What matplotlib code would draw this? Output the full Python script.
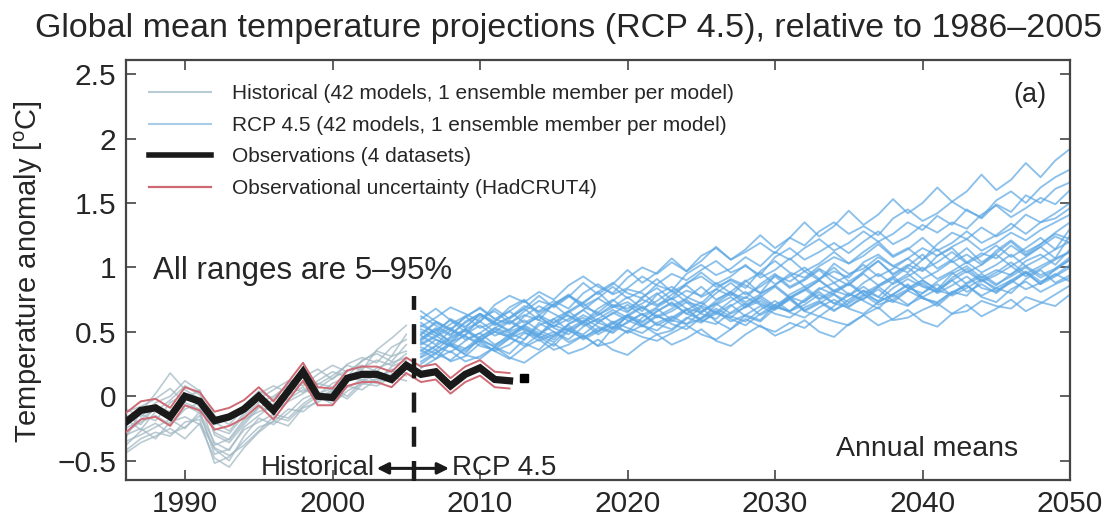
import numpy as np
import matplotlib
matplotlib.use("Agg")
import matplotlib.pyplot as plt
from matplotlib.lines import Line2D

plt.rcParams['font.family'] = ['Liberation Sans', 'DejaVu Sans']
plt.rcParams['mathtext.fontset'] = 'custom'
plt.rcParams['mathtext.rm'] = 'Liberation Sans'

# ---------------- data ----------------
obs_years = list(range(1986, 2013))
obs_mean = [-0.20, -0.11, -0.09, -0.16, 0.00, -0.04, -0.19, -0.16, -0.10, 0.00,
            -0.11, 0.04, 0.19, 0.00, -0.01, 0.14, 0.17, 0.17, 0.13, 0.24,
            0.17, 0.19, 0.08, 0.17, 0.22, 0.13, 0.12]
obs_upper = [-0.13, -0.04, -0.02, -0.09, 0.07, 0.03, -0.12, -0.09, -0.03, 0.07,
             -0.04, 0.11, 0.26, 0.07, 0.06, 0.20, 0.23, 0.23, 0.19, 0.30,
             0.23, 0.25, 0.14, 0.23, 0.28, 0.19, 0.18]
obs_lower = [-0.28, -0.18, -0.16, -0.23, -0.07, -0.11, -0.26, -0.23, -0.17, -0.07,
             -0.18, -0.03, 0.12, -0.07, -0.07, 0.08, 0.11, 0.11, 0.07, 0.18,
             0.11, 0.13, 0.02, 0.11, 0.16, 0.07, 0.06]
obs_2013 = 0.14

hist_years = list(range(1986, 2006))
hist_runs = [
    [-0.28, -0.20, -0.15, -0.22, -0.10, -0.05, -0.38, -0.33, -0.18, -0.12, -0.08, -0.02, 0.05, 0.01, 0.10, 0.15, 0.12, 0.22, 0.26, 0.30],
    [-0.35, -0.30, -0.24, -0.18, -0.25, -0.12, -0.45, -0.41, -0.26, -0.20, -0.14, -0.17, -0.06, 0.02, 0.06, 0.00, 0.11, 0.18, 0.14, 0.24],
    [-0.15, -0.22, -0.08, -0.12, -0.02, 0.05, -0.30, -0.36, -0.22, -0.09, -0.03, 0.04, 0.10, 0.06, 0.14, 0.20, 0.24, 0.19, 0.31, 0.35],
    [-0.42, -0.33, -0.28, -0.31, -0.20, -0.18, -0.52, -0.47, -0.35, -0.24, -0.20, -0.10, -0.12, -0.03, 0.02, 0.08, 0.05, 0.13, 0.20, 0.16],
    [-0.22, -0.14, -0.19, -0.05, 0.02, -0.08, -0.25, -0.29, -0.15, -0.05, 0.00, 0.08, 0.03, 0.12, 0.19, 0.15, 0.28, 0.33, 0.27, 0.40],
    [-0.30, -0.25, -0.33, -0.20, -0.16, -0.22, -0.48, -0.55, -0.40, -0.28, -0.19, -0.23, -0.09, -0.05, 0.04, -0.02, 0.09, 0.14, 0.21, 0.18],
    [-0.12, -0.08, -0.02, 0.06, -0.05, -0.10, -0.20, -0.27, -0.13, 0.02, 0.08, 0.03, 0.15, 0.21, 0.13, 0.25, 0.30, 0.26, 0.38, 0.44],
    [-0.38, -0.27, -0.21, -0.29, -0.24, -0.15, -0.41, -0.50, -0.31, -0.17, -0.22, -0.13, -0.02, 0.03, -0.04, 0.07, 0.13, 0.10, 0.17, 0.22],
    [-0.18, -0.26, -0.12, -0.03, 0.08, 0.01, -0.22, -0.18, -0.07, 0.04, -0.02, 0.10, 0.18, 0.09, 0.16, 0.24, 0.20, 0.36, 0.45, 0.55],
    [-0.25, -0.18, -0.09, -0.14, -0.07, -0.13, -0.36, -0.42, -0.24, -0.15, -0.06, 0.01, 0.07, -0.02, 0.05, 0.12, 0.17, 0.11, 0.23, 0.28],
    [-0.44, -0.36, -0.31, -0.25, -0.33, -0.21, -0.40, -0.46, -0.38, -0.27, -0.16, -0.19, -0.08, 0.00, -0.06, 0.04, 0.10, 0.08, 0.15, 0.12],
    [-0.10, -0.16, -0.05, 0.00, 0.12, 0.04, -0.15, -0.22, -0.10, -0.02, 0.05, 0.12, 0.08, 0.17, 0.24, 0.19, 0.27, 0.35, 0.31, 0.48],
    [-0.32, -0.12, 0.02, 0.18, 0.05, -0.02, -0.28, -0.34, -0.20, -0.08, -0.12, -0.04, 0.02, 0.10, 0.07, 0.14, 0.22, 0.28, 0.24, 0.33],
]

rcp_years = list(range(2006, 2051))
rcp_runs = [
    [0.30, 0.36, 0.27, 0.31, 0.41, 0.35, 0.29, 0.38, 0.44, 0.36, 0.40, 0.47, 0.39, 0.42, 0.51, 0.46, 0.43, 0.49, 0.55, 0.48, 0.44, 0.52, 0.60, 0.54, 0.50, 0.57, 0.53, 0.62, 0.58, 0.55, 0.63, 0.69, 0.59, 0.61, 0.67, 0.72, 0.64, 0.66, 0.74, 0.70, 0.68, 0.77, 0.73, 0.70, 0.79],
    [0.38, 0.33, 0.42, 0.47, 0.39, 0.36, 0.45, 0.50, 0.43, 0.48, 0.55, 0.46, 0.51, 0.58, 0.53, 0.49, 0.57, 0.62, 0.56, 0.60, 0.66, 0.58, 0.63, 0.70, 0.64, 0.61, 0.69, 0.74, 0.67, 0.72, 0.79, 0.71, 0.75, 0.82, 0.76, 0.73, 0.81, 0.86, 0.78, 0.84, 0.90, 0.83, 0.88, 0.95, 0.89],
    [0.45, 0.52, 0.41, 0.37, 0.46, 0.53, 0.49, 0.44, 0.55, 0.60, 0.51, 0.48, 0.57, 0.65, 0.59, 0.54, 0.62, 0.58, 0.67, 0.73, 0.64, 0.61, 0.70, 0.76, 0.69, 0.66, 0.74, 0.81, 0.72, 0.78, 0.85, 0.77, 0.73, 0.82, 0.88, 0.80, 0.86, 0.93, 0.84, 0.81, 0.90, 0.97, 0.89, 0.94, 1.02],
    [0.27, 0.34, 0.40, 0.32, 0.29, 0.38, 0.45, 0.41, 0.36, 0.47, 0.53, 0.44, 0.50, 0.57, 0.49, 0.55, 0.63, 0.56, 0.52, 0.61, 0.68, 0.62, 0.58, 0.67, 0.74, 0.66, 0.71, 0.79, 0.72, 0.69, 0.78, 0.85, 0.77, 0.83, 0.90, 0.82, 0.79, 0.88, 0.95, 0.87, 0.93, 1.00, 0.92, 0.98, 1.06],
    [0.50, 0.44, 0.39, 0.48, 0.55, 0.47, 0.52, 0.59, 0.51, 0.46, 0.56, 0.63, 0.57, 0.53, 0.62, 0.69, 0.61, 0.66, 0.73, 0.64, 0.60, 0.70, 0.77, 0.71, 0.67, 0.76, 0.83, 0.75, 0.80, 0.87, 0.79, 0.74, 0.84, 0.91, 0.85, 0.81, 0.90, 0.97, 0.89, 0.94, 1.01, 0.93, 0.99, 1.06, 1.12],
    [0.35, 0.44, 0.39, 0.33, 0.46, 0.52, 0.47, 0.55, 0.49, 0.44, 0.56, 0.61, 0.54, 0.50, 0.63, 0.58, 0.66, 0.73, 0.64, 0.60, 0.71, 0.77, 0.69, 0.74, 0.68, 0.79, 0.85, 0.76, 0.82, 0.88, 0.80, 0.86, 0.93, 0.84, 0.90, 0.83, 0.95, 1.01, 0.92, 0.98, 0.94, 1.05, 1.10, 1.02, 1.14],
    [0.57, 0.49, 0.43, 0.52, 0.58, 0.50, 0.46, 0.55, 0.62, 0.54, 0.60, 0.67, 0.58, 0.64, 0.71, 0.63, 0.69, 0.76, 0.68, 0.65, 0.74, 0.81, 0.73, 0.79, 0.86, 0.77, 0.83, 0.90, 0.82, 0.78, 0.88, 0.95, 0.87, 0.93, 1.00, 0.91, 0.97, 1.04, 0.96, 1.02, 1.10, 1.01, 1.07, 1.14, 1.20],
    [0.40, 0.46, 0.53, 0.44, 0.49, 0.57, 0.50, 0.55, 0.62, 0.53, 0.48, 0.58, 0.65, 0.57, 0.63, 0.70, 0.62, 0.68, 0.75, 0.66, 0.72, 0.80, 0.71, 0.77, 0.85, 0.76, 0.82, 0.90, 0.81, 0.87, 0.95, 0.86, 0.92, 1.00, 0.91, 0.97, 1.05, 0.96, 1.02, 1.10, 1.01, 1.08, 1.16, 1.07, 1.25],
    [0.62, 0.55, 0.48, 0.57, 0.64, 0.56, 0.61, 0.68, 0.59, 0.54, 0.65, 0.72, 0.63, 0.69, 0.77, 0.68, 0.74, 0.82, 0.73, 0.70, 0.80, 0.88, 0.79, 0.85, 0.93, 0.84, 0.90, 0.98, 0.88, 0.94, 1.02, 0.93, 0.99, 1.07, 0.98, 1.04, 1.12, 1.03, 1.09, 1.17, 1.08, 1.15, 1.23, 1.14, 1.30],
    [0.33, 0.39, 0.46, 0.52, 0.44, 0.50, 0.58, 0.51, 0.47, 0.60, 0.66, 0.57, 0.63, 0.71, 0.68, 0.75, 0.70, 0.79, 0.86, 0.77, 0.83, 0.78, 0.89, 0.96, 0.87, 0.93, 1.00, 0.91, 0.97, 0.92, 1.04, 1.10, 1.01, 1.07, 1.15, 1.09, 1.16, 1.22, 1.13, 1.19, 1.27, 1.21, 1.29, 1.35, 1.41],
    [0.66, 0.58, 0.52, 0.61, 0.69, 0.60, 0.66, 0.74, 0.65, 0.71, 0.79, 0.70, 0.76, 0.85, 0.76, 0.82, 0.91, 0.81, 0.87, 0.96, 0.87, 0.93, 1.02, 0.92, 0.98, 1.07, 0.97, 1.03, 1.12, 1.03, 1.09, 1.18, 1.08, 1.14, 1.23, 1.13, 1.19, 1.28, 1.19, 1.25, 1.34, 1.26, 1.35, 1.42, 1.50],
    [0.48, 0.57, 0.51, 0.62, 0.68, 0.60, 0.56, 0.66, 0.74, 0.70, 0.78, 0.72, 0.81, 0.88, 0.80, 0.76, 0.87, 0.95, 0.90, 0.98, 1.05, 0.96, 1.01, 0.94, 1.08, 1.15, 1.06, 1.12, 1.19, 1.11, 1.20, 1.28, 1.18, 1.24, 1.33, 1.27, 1.35, 1.30, 1.41, 1.48, 1.39, 1.46, 1.54, 1.49, 1.60],
    [0.54, 0.61, 0.69, 0.64, 0.58, 0.71, 0.78, 0.73, 0.81, 0.75, 0.86, 0.93, 0.85, 0.80, 0.92, 1.00, 0.95, 1.04, 0.97, 1.09, 1.15, 1.06, 1.12, 1.19, 1.11, 1.23, 1.17, 1.28, 1.35, 1.26, 1.32, 1.25, 1.38, 1.45, 1.36, 1.42, 1.51, 1.44, 1.39, 1.52, 1.59, 1.50, 1.62, 1.70, 1.76],
    [0.43, 0.51, 0.59, 0.50, 0.58, 0.68, 0.60, 0.68, 0.78, 0.69, 0.77, 0.88, 0.79, 0.87, 0.98, 0.88, 0.96, 1.07, 0.97, 1.05, 1.16, 1.06, 1.14, 1.25, 1.15, 1.23, 1.35, 1.24, 1.32, 1.44, 1.33, 1.41, 1.53, 1.42, 1.50, 1.62, 1.51, 1.59, 1.72, 1.60, 1.68, 1.81, 1.70, 1.83, 1.92],
    [0.22, 0.29, 0.35, 0.27, 0.31, 0.38, 0.30, 0.26, 0.34, 0.41, 0.33, 0.37, 0.44, 0.36, 0.32, 0.41, 0.48, 0.40, 0.45, 0.52, 0.43, 0.39, 0.48, 0.55, 0.47, 0.52, 0.59, 0.50, 0.46, 0.56, 0.63, 0.55, 0.60, 0.67, 0.58, 0.54, 0.64, 0.71, 0.62, 0.68, 0.75, 0.66, 0.72, 0.79, 0.86],
    [0.42, 0.36, 0.45, 0.51, 0.43, 0.39, 0.48, 0.54, 0.47, 0.42, 0.52, 0.59, 0.50, 0.56, 0.63, 0.55, 0.51, 0.60, 0.67, 0.58, 0.64, 0.71, 0.62, 0.58, 0.68, 0.75, 0.66, 0.72, 0.79, 0.70, 0.76, 0.83, 0.74, 0.70, 0.80, 0.87, 0.78, 0.84, 0.91, 0.82, 0.88, 0.96, 0.87, 0.99, 1.08],
    [0.52, 0.47, 0.56, 0.62, 0.53, 0.58, 0.66, 0.57, 0.63, 0.71, 0.62, 0.57, 0.68, 0.75, 0.66, 0.72, 0.80, 0.70, 0.76, 0.85, 0.75, 0.81, 0.90, 0.80, 0.86, 0.95, 0.85, 0.91, 1.00, 0.89, 0.96, 1.05, 0.94, 1.01, 1.10, 0.99, 1.06, 1.15, 1.04, 1.11, 1.20, 1.10, 1.18, 1.27, 1.35],
    [0.31, 0.39, 0.34, 0.43, 0.49, 0.40, 0.46, 0.53, 0.45, 0.50, 0.44, 0.54, 0.60, 0.52, 0.57, 0.64, 0.55, 0.61, 0.68, 0.59, 0.56, 0.65, 0.72, 0.63, 0.69, 0.76, 0.67, 0.73, 0.66, 0.75, 0.82, 0.73, 0.79, 0.86, 0.77, 0.83, 0.90, 0.81, 0.87, 0.80, 0.89, 0.96, 0.87, 0.93, 1.00],
    [0.48, 0.58, 0.52, 0.47, 0.61, 0.66, 0.57, 0.63, 0.59, 0.72, 0.78, 0.69, 0.65, 0.74, 0.83, 0.80, 0.71, 0.76, 0.88, 0.93, 0.85, 0.90, 0.84, 0.97, 1.05, 0.96, 0.92, 1.01, 1.08, 1.03, 1.12, 1.20, 1.09, 1.15, 1.06, 1.18, 1.27, 1.22, 1.31, 1.24, 1.30, 1.41, 1.35, 1.38, 1.46],
    [0.36, 0.29, 0.41, 0.52, 0.45, 0.38, 0.33, 0.44, 0.57, 0.50, 0.42, 0.47, 0.39, 0.53, 0.62, 0.55, 0.48, 0.51, 0.60, 0.69, 0.58, 0.52, 0.63, 0.59, 0.71, 0.77, 0.66, 0.62, 0.70, 0.80, 0.74, 0.68, 0.79, 0.87, 0.76, 0.72, 0.81, 0.78, 0.90, 0.84, 0.80, 0.91, 0.98, 0.88, 0.94],
    [0.55, 0.49, 0.60, 0.54, 0.63, 0.57, 0.51, 0.62, 0.70, 0.64, 0.58, 0.67, 0.76, 0.69, 0.73, 0.66, 0.79, 0.85, 0.77, 0.72, 0.83, 0.91, 0.86, 0.80, 0.94, 0.89, 0.97, 0.90, 1.03, 0.95, 0.99, 1.08, 1.01, 0.96, 1.06, 1.14, 1.04, 1.10, 1.02, 1.13, 1.21, 1.12, 1.18, 1.26, 1.22],
    [0.25, 0.33, 0.28, 0.37, 0.43, 0.35, 0.40, 0.49, 0.46, 0.39, 0.51, 0.57, 0.48, 0.54, 0.50, 0.61, 0.68, 0.59, 0.56, 0.65, 0.72, 0.64, 0.69, 0.78, 0.70, 0.66, 0.75, 0.84, 0.79, 0.73, 0.82, 0.77, 0.88, 0.95, 0.86, 0.81, 0.92, 0.99, 0.90, 0.96, 1.04, 0.95, 1.01, 1.07, 1.12],
    [0.44, 0.53, 0.47, 0.58, 0.64, 0.55, 0.61, 0.70, 0.66, 0.74, 0.68, 0.80, 0.87, 0.79, 0.84, 0.93, 0.86, 0.82, 0.95, 1.02, 0.94, 0.99, 1.08, 1.01, 1.12, 1.06, 1.15, 1.22, 1.13, 1.19, 1.28, 1.20, 1.26, 1.35, 1.29, 1.40, 1.33, 1.45, 1.38, 1.49, 1.43, 1.56, 1.50, 1.61, 1.66],
    [0.41, 0.47, 0.40, 0.35, 0.44, 0.50, 0.46, 0.39, 0.48, 0.55, 0.51, 0.45, 0.53, 0.49, 0.58, 0.64, 0.56, 0.52, 0.61, 0.57, 0.66, 0.60, 0.55, 0.64, 0.71, 0.65, 0.61, 0.69, 0.75, 0.68, 0.64, 0.73, 0.79, 0.71, 0.77, 0.70, 0.80, 0.86, 0.77, 0.73, 0.83, 0.89, 0.81, 0.87, 0.92],
    [0.60, 0.68, 0.59, 0.53, 0.64, 0.58, 0.69, 0.75, 0.63, 0.57, 0.66, 0.73, 0.81, 0.70, 0.65, 0.77, 0.84, 0.75, 0.82, 0.78, 0.88, 0.80, 0.76, 0.87, 0.95, 0.85, 0.91, 0.99, 0.92, 0.86, 0.97, 1.05, 0.95, 1.02, 0.97, 1.09, 1.15, 1.04, 1.11, 1.07, 1.17, 1.09, 1.16, 1.24, 1.19],
    [0.47, 0.40, 0.51, 0.46, 0.42, 0.53, 0.59, 0.52, 0.48, 0.57, 0.63, 0.55, 0.60, 0.67, 0.61, 0.57, 0.66, 0.72, 0.64, 0.70, 0.65, 0.74, 0.81, 0.72, 0.68, 0.77, 0.73, 0.83, 0.88, 0.79, 0.75, 0.85, 0.91, 0.84, 0.80, 0.89, 0.96, 0.87, 0.93, 0.86, 0.95, 1.01, 0.94, 0.99, 1.06],
]

x_ticks = [1990, 2000, 2010, 2020, 2030, 2040, 2050]
y_ticks = [-0.5, 0, 0.5, 1, 1.5, 2, 2.5]
y_tick_labels = ['\u22120.5', '0', '0.5', '1', '1.5', '2', '2.5']
legend_labels = [
    'Historical (42 models, 1 ensemble member per model)',
    'RCP 4.5 (42 models, 1 ensemble member per model)',
    'Observations (4 datasets)',
    'Observational uncertainty (HadCRUT4)',
]
split_year = 2005.5

# ---------------- styling ----------------
TXT = '#262626'
HIST_C = '#a3b9c4'
RCP_C = '#5aa6e3'
RED_C = '#cf6a74'

fig = plt.figure(figsize=(11.13, 5.26), dpi=100)
ax = fig.add_axes([0.1132, 0.0875, 0.8482, 0.7985])

for run in hist_runs:
    ax.plot(hist_years, run, color=HIST_C, lw=1.2, alpha=0.75, zorder=2)
for run in rcp_runs:
    ax.plot(rcp_years, run, color=RCP_C, lw=1.35, alpha=0.7, zorder=2)

ax.plot(obs_years, obs_upper, color=RED_C, lw=1.4, zorder=3)
ax.plot(obs_years, obs_lower, color=RED_C, lw=1.4, zorder=3)
ax.plot(obs_years, obs_mean, color='#1a1a1a', lw=5.2, zorder=4, solid_joinstyle='miter')
ax.plot([2013], [obs_2013], marker='s', color='black', ms=6, ls='none', zorder=5)

# boundary between historical and scenario periods
ax.plot([split_year, split_year], [-0.66, 0.78], color='#1a1a1a', lw=3.2,
        dashes=(4.5, 3.2), zorder=5, clip_on=False)
ax.annotate('', xy=(2003.0, -0.56), xytext=(2007.9, -0.56),
            arrowprops=dict(arrowstyle='<|-|>', color='#1a1a1a', lw=2.2,
                            mutation_scale=17, shrinkA=0, shrinkB=0), zorder=6)
ax.text(2002.9, -0.56, 'Historical', ha='right', va='center', fontsize=20, color=TXT)
ax.text(2008.1, -0.56, 'RCP 4.5', ha='left', va='center', fontsize=20, color=TXT)

ax.text(1987.8, 0.97, 'All ranges are 5\u201395%', ha='left', va='center', fontsize=22.5, color=TXT)
ax.text(2046.5, -0.41, 'Annual means', ha='right', va='center', fontsize=20.5, color=TXT)
ax.text(2047.3, 2.34, '(a)', ha='center', va='center', fontsize=19.5, color=TXT)

handles = [
    Line2D([], [], color='#b9cbd4', lw=1.5),
    Line2D([], [], color='#a9cde9', lw=1.5),
    Line2D([], [], color='#1a1a1a', lw=4),
    Line2D([], [], color=RED_C, lw=1.6),
]
leg = ax.legend(handles, legend_labels, loc='upper left', bbox_to_anchor=(0.024, 0.942),
                frameon=False, fontsize=15, handlelength=3.0, handletextpad=1.0,
                labelspacing=0.6, borderpad=0, borderaxespad=0)
for t in leg.get_texts():
    t.set_color(TXT)

ax.set_xlim(1986, 2050)
ax.set_ylim(-0.65, 2.61)
ax.set_xticks(x_ticks)
ax.set_xticklabels([str(v) for v in x_ticks])
ax.set_yticks(y_ticks)
ax.set_yticklabels(y_tick_labels)
ax.tick_params(direction='in', length=7, width=1.2, top=True, right=True,
               labelsize=21.5, pad=7, colors='#444444', labelcolor=TXT)
for s in ax.spines.values():
    s.set_linewidth(1.6)
    s.set_color('#444444')

fig.text(0.511, 0.945, 'Global mean temperature projections (RCP 4.5), relative to 1986\u20132005',
         ha='center', va='center', fontsize=24.5, color=TXT)
fig.text(0.026, 0.483, 'Temperature anomaly [$^\\mathrm{o}$C]', rotation=90,
         ha='center', va='center', fontsize=21, color=TXT)

fig.savefig('out.png', dpi=100)
